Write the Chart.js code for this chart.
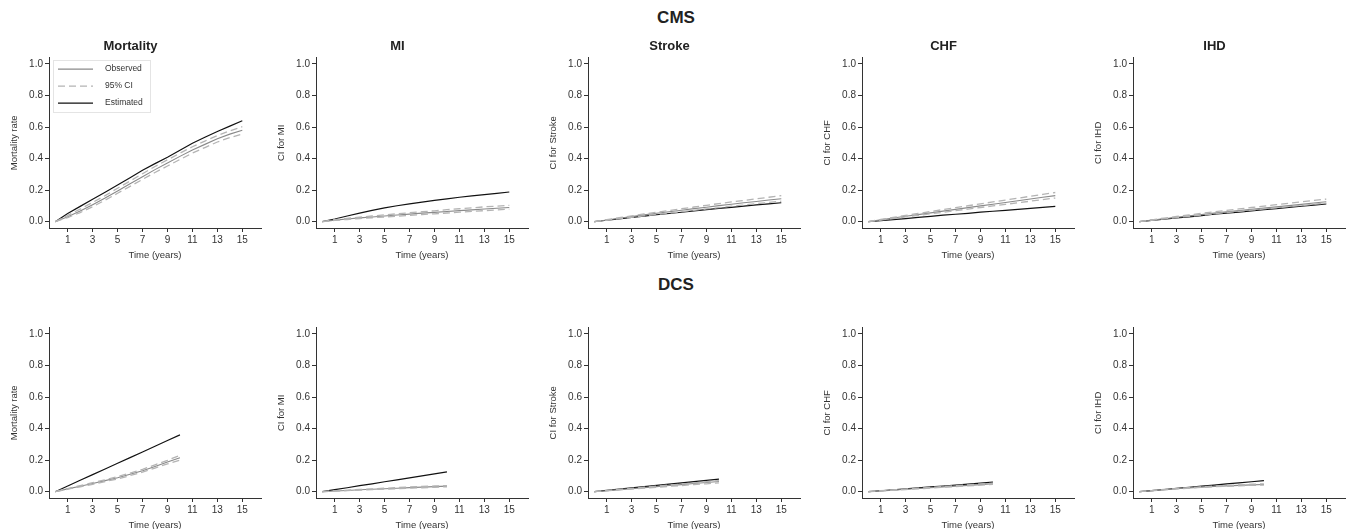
<!DOCTYPE html>
<html>
<head>
<meta charset="utf-8">
<script src="https://cdn.jsdelivr.net/npm/chart.js@4.4.0/dist/chart.umd.min.js"></script>
<style>
  html, body { margin: 0; padding: 0; background: #fff; }
  body { width: 1352px; height: 529px; overflow: hidden; position: relative;
         font-family: "Liberation Sans", Arial, sans-serif; }
  .head { position: absolute; left: 0; width: 1352px; text-align: center;
          font-weight: bold; font-size: 17px; color: #222; }
  canvas { position: absolute; }
</style>
</head>
<body>
<div class="head" style="top:8px">CMS</div>
<div class="head" style="top:275px">DCS</div>
<script>
// x values and ticks
const cmsYears = [0, 1, 2, 3, 4, 5, 6, 7, 8, 9, 10, 11, 12, 13, 14, 15];
const dcsYears = [0, 1, 2, 3, 4, 5, 6, 7, 8, 9, 10];
const xTicks = [1, 3, 5, 7, 9, 11, 13, 15];
const yTicks = [0, 0.2, 0.4, 0.6, 0.8, 1.0];
const outcomes = ["Mortality", "MI", "Stroke", "CHF", "IHD"];
const yTitles = ["Mortality rate", "CI for MI", "CI for Stroke", "CI for CHF", "CI for IHD"];
const legendLabels = ["Observed", "95% CI", "Estimated"];

// CMS
const cmsMortEst = [0, 0.052, 0.097, 0.142, 0.187, 0.232, 0.279, 0.326, 0.368, 0.409, 0.453, 0.497, 0.535, 0.572, 0.606, 0.640];
const cmsMortObs = [0, 0.032, 0.068, 0.108, 0.150, 0.195, 0.240, 0.285, 0.330, 0.372, 0.414, 0.455, 0.490, 0.525, 0.555, 0.580];
const cmsMortHi  = [0, 0.040, 0.080, 0.122, 0.165, 0.212, 0.258, 0.304, 0.350, 0.392, 0.434, 0.475, 0.511, 0.546, 0.576, 0.602];
const cmsMortLo  = [0, 0.026, 0.058, 0.095, 0.136, 0.180, 0.224, 0.268, 0.312, 0.353, 0.394, 0.435, 0.470, 0.505, 0.533, 0.556];

const cmsMiEst = [0, 0.017, 0.036, 0.054, 0.072, 0.088, 0.101, 0.113, 0.124, 0.135, 0.145, 0.155, 0.164, 0.172, 0.180, 0.188];
const cmsMiObs = [0, 0.010, 0.017, 0.024, 0.030, 0.036, 0.042, 0.048, 0.054, 0.059, 0.065, 0.070, 0.075, 0.080, 0.085, 0.090];
const cmsMiHi  = [0, 0.013, 0.021, 0.029, 0.036, 0.043, 0.050, 0.057, 0.063, 0.069, 0.076, 0.082, 0.088, 0.094, 0.099, 0.104];
const cmsMiLo  = [0, 0.008, 0.014, 0.020, 0.025, 0.030, 0.035, 0.040, 0.045, 0.050, 0.055, 0.060, 0.065, 0.070, 0.075, 0.080];

const cmsStrokeEst = [0, 0.009, 0.018, 0.027, 0.035, 0.044, 0.052, 0.060, 0.068, 0.076, 0.084, 0.091, 0.099, 0.106, 0.113, 0.120];
const cmsStrokeObs = [0, 0.011, 0.022, 0.033, 0.043, 0.053, 0.063, 0.073, 0.083, 0.092, 0.102, 0.111, 0.120, 0.128, 0.137, 0.145];
const cmsStrokeHi  = [0, 0.013, 0.025, 0.037, 0.049, 0.060, 0.071, 0.082, 0.093, 0.104, 0.115, 0.125, 0.135, 0.145, 0.155, 0.165];
const cmsStrokeLo  = [0, 0.009, 0.019, 0.028, 0.037, 0.046, 0.055, 0.064, 0.072, 0.081, 0.089, 0.098, 0.106, 0.114, 0.122, 0.130];

const cmsChfEst = [0, 0.006, 0.013, 0.020, 0.027, 0.034, 0.041, 0.047, 0.053, 0.060, 0.066, 0.072, 0.078, 0.085, 0.091, 0.097];
const cmsChfObs = [0, 0.012, 0.023, 0.034, 0.045, 0.056, 0.067, 0.078, 0.089, 0.100, 0.111, 0.122, 0.133, 0.144, 0.155, 0.165];
const cmsChfHi  = [0, 0.014, 0.027, 0.040, 0.052, 0.064, 0.077, 0.089, 0.101, 0.113, 0.125, 0.137, 0.149, 0.161, 0.173, 0.185];
const cmsChfLo  = [0, 0.010, 0.020, 0.030, 0.040, 0.050, 0.060, 0.070, 0.080, 0.090, 0.100, 0.110, 0.120, 0.130, 0.140, 0.150];

const cmsIhdEst = [0, 0.008, 0.016, 0.024, 0.031, 0.039, 0.047, 0.054, 0.061, 0.069, 0.076, 0.083, 0.091, 0.098, 0.105, 0.112];
const cmsIhdObs = [0, 0.010, 0.019, 0.028, 0.037, 0.045, 0.054, 0.062, 0.070, 0.078, 0.086, 0.094, 0.102, 0.110, 0.118, 0.126];
const cmsIhdHi  = [0, 0.012, 0.023, 0.033, 0.043, 0.053, 0.063, 0.072, 0.081, 0.090, 0.099, 0.108, 0.117, 0.126, 0.135, 0.143];
const cmsIhdLo  = [0, 0.009, 0.018, 0.026, 0.034, 0.042, 0.050, 0.058, 0.066, 0.073, 0.081, 0.088, 0.096, 0.103, 0.111, 0.118];

// DCS
const dcsMortEst = [0, 0.036, 0.072, 0.108, 0.144, 0.180, 0.216, 0.252, 0.288, 0.324, 0.360];
const dcsMortObs = [0, 0.018, 0.035, 0.052, 0.070, 0.088, 0.110, 0.133, 0.160, 0.188, 0.215];
const dcsMortHi  = [0, 0.020, 0.039, 0.057, 0.076, 0.095, 0.118, 0.142, 0.170, 0.199, 0.230];
const dcsMortLo  = [0, 0.016, 0.031, 0.047, 0.064, 0.081, 0.102, 0.124, 0.150, 0.176, 0.200];

const dcsMiEst = [0, 0.013, 0.025, 0.038, 0.050, 0.063, 0.075, 0.088, 0.100, 0.113, 0.125];
const dcsMiObs = [0, 0.004, 0.008, 0.012, 0.015, 0.019, 0.022, 0.026, 0.029, 0.032, 0.035];
const dcsMiHi  = [0, 0.005, 0.009, 0.014, 0.018, 0.022, 0.026, 0.030, 0.033, 0.036, 0.039];
const dcsMiLo  = [0, 0.003, 0.007, 0.010, 0.013, 0.016, 0.019, 0.022, 0.025, 0.028, 0.031];

const dcsStrokeEst = [0, 0.008, 0.016, 0.024, 0.032, 0.040, 0.048, 0.056, 0.064, 0.072, 0.080];
const dcsStrokeObs = [0, 0.006, 0.013, 0.019, 0.026, 0.032, 0.039, 0.045, 0.052, 0.058, 0.065];
const dcsStrokeHi  = [0, 0.007, 0.014, 0.021, 0.028, 0.035, 0.042, 0.049, 0.056, 0.063, 0.070];
const dcsStrokeLo  = [0, 0.006, 0.011, 0.017, 0.022, 0.028, 0.034, 0.039, 0.045, 0.050, 0.056];

const dcsChfEst = [0, 0.006, 0.012, 0.018, 0.024, 0.030, 0.036, 0.042, 0.048, 0.054, 0.060];
const dcsChfObs = [0, 0.005, 0.010, 0.015, 0.020, 0.025, 0.030, 0.035, 0.040, 0.045, 0.050];
const dcsChfHi  = [0, 0.006, 0.011, 0.016, 0.022, 0.027, 0.032, 0.038, 0.043, 0.049, 0.054];
const dcsChfLo  = [0, 0.005, 0.009, 0.014, 0.018, 0.023, 0.028, 0.032, 0.037, 0.041, 0.046];

const dcsIhdEst = [0, 0.007, 0.014, 0.021, 0.028, 0.035, 0.042, 0.049, 0.056, 0.063, 0.070];
const dcsIhdObs = [0, 0.007, 0.013, 0.019, 0.024, 0.029, 0.033, 0.037, 0.040, 0.043, 0.046];
const dcsIhdHi  = [0, 0.007, 0.014, 0.020, 0.026, 0.031, 0.035, 0.040, 0.043, 0.047, 0.050];
const dcsIhdLo  = [0, 0.006, 0.012, 0.018, 0.022, 0.027, 0.031, 0.034, 0.037, 0.040, 0.042];

const panels = [
  [cmsYears, cmsMortEst, cmsMortObs, cmsMortLo, cmsMortHi],
  [cmsYears, cmsMiEst, cmsMiObs, cmsMiLo, cmsMiHi],
  [cmsYears, cmsStrokeEst, cmsStrokeObs, cmsStrokeLo, cmsStrokeHi],
  [cmsYears, cmsChfEst, cmsChfObs, cmsChfLo, cmsChfHi],
  [cmsYears, cmsIhdEst, cmsIhdObs, cmsIhdLo, cmsIhdHi],
  [dcsYears, dcsMortEst, dcsMortObs, dcsMortLo, dcsMortHi],
  [dcsYears, dcsMiEst, dcsMiObs, dcsMiLo, dcsMiHi],
  [dcsYears, dcsStrokeEst, dcsStrokeObs, dcsStrokeLo, dcsStrokeHi],
  [dcsYears, dcsChfEst, dcsChfObs, dcsChfLo, dcsChfHi],
  [dcsYears, dcsIhdEst, dcsIhdObs, dcsIhdLo, dcsIhdHi],
];

const panelLeft = [0, 267, 539, 813, 1084];
const rowTop = [30, 300];
const estColor = "#111";
const obsColor = "#8a8a8a";
const ciColor = "#b4b4b4";
const axisColor = "#333";
const font = '"Liberation Sans", Arial, sans-serif';

function pts(xs, ys) {
  return ys.map((y, i) => ({ x: xs[i], y: y }));
}

// legend drawn inside the first panel
const insetLegend = {
  id: "insetLegend",
  afterDraw(chart) {
    const ctx = chart.ctx;
    const a = chart.chartArea;
    const x0 = a.left + 4, y0 = a.top + 2.5;
    ctx.save();
    ctx.strokeStyle = "#e4e4e4";
    ctx.lineWidth = 1;
    ctx.strokeRect(Math.round(x0) + 0.5, Math.round(y0) + 0.5, 97, 52);
    const styles = [
      { c: obsColor, d: [], w: 1.1 },
      { c: ciColor, d: [7, 4], w: 1.3 },
      { c: estColor, d: [], w: 1.2 },
    ];
    ctx.font = "8.5px " + font;
    ctx.textBaseline = "middle";
    legendLabels.forEach((lab, i) => {
      const y = y0 + 9 + i * 17;
      ctx.strokeStyle = styles[i].c;
      ctx.lineWidth = styles[i].w;
      ctx.setLineDash(styles[i].d);
      ctx.beginPath();
      ctx.moveTo(x0 + 5, y);
      ctx.lineTo(x0 + 40, y);
      ctx.stroke();
      ctx.setLineDash([]);
      ctx.fillStyle = "#333";
      ctx.fillText(lab, x0 + 52, y);
    });
    ctx.restore();
  }
};

Chart.defaults.font.family = font;

panels.forEach((p, k) => {
  const row = Math.floor(k / 5), col = k % 5;
  const [xs, est, obs, lo, hi] = p;
  const cv = document.createElement("canvas");
  cv.width = 270;
  cv.height = 235;
  cv.style.left = panelLeft[col] + "px";
  cv.style.top = rowTop[row] + "px";
  document.body.appendChild(cv);

  new Chart(cv, {
    type: "line",
    data: {
      datasets: [
        { label: "95% CI", data: pts(xs, hi), borderColor: ciColor, borderDash: [7, 4], borderWidth: 1.3 },
        { label: "95% CI", data: pts(xs, lo), borderColor: ciColor, borderDash: [7, 4], borderWidth: 1.3 },
        { label: "Observed", data: pts(xs, obs), borderColor: obsColor, borderWidth: 1.1 },
        { label: "Estimated", data: pts(xs, est), borderColor: estColor, borderWidth: 1.2 },
      ],
    },
    options: {
      responsive: false,
      animation: false,
      elements: { point: { radius: 0 }, line: { tension: 0 } },
      layout: { padding: { left: 0, right: 9, top: row === 0 ? 0 : 27.6, bottom: 0 } },
      plugins: {
        legend: { display: false },
        tooltip: { enabled: false },
        title: {
          display: row === 0,
          text: outcomes[col],
          color: "#222",
          font: { size: 13, weight: "bold" },
          padding: { top: 9, bottom: 3 },
        },
      },
      scales: {
        x: {
          type: "linear",
          min: -0.5,
          max: 16.5,
          afterBuildTicks: (s) => { s.ticks = xTicks.map((v) => ({ value: v })); },
          afterFit: (s) => { s.height = 37; },
          grid: { drawOnChartArea: false, drawTicks: true, tickLength: 4, color: axisColor },
          border: { color: axisColor, width: 1 },
          ticks: { color: axisColor, font: { size: 10 }, padding: 2, maxRotation: 0, autoSkip: false },
          title: { display: true, text: "Time (years)", color: axisColor, font: { size: 9.5 }, padding: { top: 0, bottom: 4 } },
        },
        y: {
          min: -0.04,
          max: 1.04,
          afterBuildTicks: (s) => { s.ticks = yTicks.map((v) => ({ value: v })); },
          afterFit: (s) => { s.width = 49; },
          grid: { drawOnChartArea: false, drawTicks: true, tickLength: 4, color: axisColor },
          border: { color: axisColor, width: 1 },
          ticks: { color: axisColor, font: { size: 10 }, padding: 2, callback: (v) => Number(v).toFixed(1) },
          title: { display: true, text: yTitles[col], color: axisColor, font: { size: 9.5 }, padding: { top: 9, bottom: 0 } },
        },
      },
    },
    plugins: k === 0 ? [insetLegend] : [],
  });
});
</script>
</body>
</html>
